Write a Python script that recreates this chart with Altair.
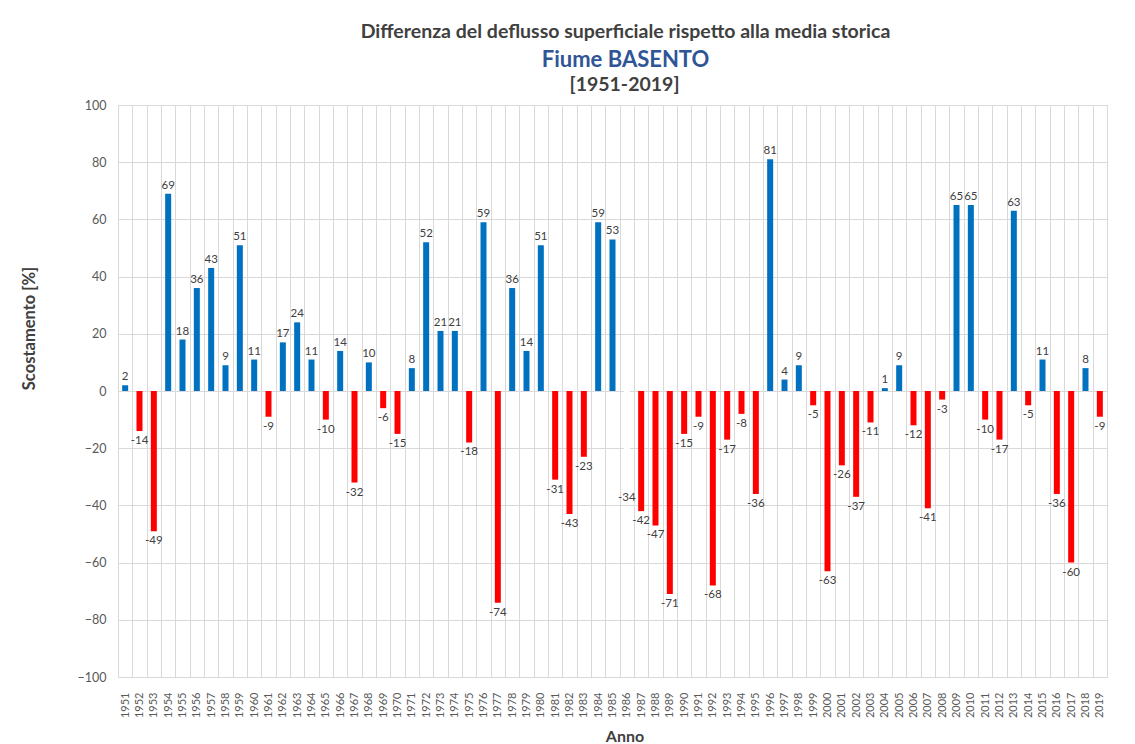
import altair as alt
import pandas as pd

years = list(range(1951, 2020))
values = [2, -14, -49, 69, 18, 36, 43, 9, 51, 11,
          -9, 17, 24, 11, -10, 14, -32, 10, -6, -15,
          8, 52, 21, 21, -18, 59, -74, 36, 14, 51,
          -31, -43, -23, 59, 53, -34, -42, -47, -71, -15,
          -9, -68, -17, -8, -36, 81, 4, 9, -5, -63,
          -26, -37, -11, 1, 9, -12, -41, -3, 65, 65,
          -10, -17, 63, -5, 11, -36, -60, 8, -9]
hidden_years = [1986]

title_line1 = "Differenza del deflusso superficiale rispetto alla media storica"
title_line2 = "Fiume BASENTO"
title_line3 = "[1951-2019]"
y_title = "Scostamento [%]"
x_title = "Anno"

BLUE = "#0070C0"
RED = "#FF0000"
TXT = "#404040"
GRID = "#D9D9D9"
FONT = "Lato"

W, H = 989, 572

df = pd.DataFrame({"year": [str(y) for y in years], "value": values})
df["label"] = df["value"].astype(str)
df["color"] = [
    "#FFFFFF" if y in hidden_years else (BLUE if v >= 0 else RED)
    for y, v in zip(years, values)
]

xscale = alt.Scale(paddingInner=0, paddingOuter=0)
yscale = alt.Scale(domain=[-100, 100])

x_enc = alt.X(
    "year:O",
    scale=xscale,
    sort=None,
    axis=alt.Axis(
        title=x_title,
        titleFont=FONT,
        titleFontSize=16,
        titleFontWeight="bold",
        titleColor=TXT,
        titleX=W / 2 + 12,
        titleY=59,
        titleBaseline="middle",
        labelAngle=-90,
        labelAlign="right",
        labelBaseline="middle",
        labelFont=FONT,
        labelFontSize=11,
        labelColor="#595959",
        labelPadding=15,
        labelOverlap=False,
        ticks=False,
        domain=False,
        grid=True,
        gridColor=GRID,
        gridWidth=1,
        tickBand="extent",
    ),
)
y_enc = alt.Y(
    "value:Q",
    scale=yscale,
    axis=alt.Axis(
        title=y_title,
        titleFont=FONT,
        titleFontSize=16.5,
        titleFontWeight="bold",
        titleColor=TXT,
        titleX=-89,
        titleY=223,
        titleAngle=-90,
        titleAlign="center",
        titleBaseline="middle",
        values=list(range(-100, 101, 20)),
        labelFont=FONT,
        labelFontSize=12.5,
        labelColor="#595959",
        labelPadding=12,
        ticks=False,
        domain=False,
        grid=True,
        gridColor=GRID,
        gridWidth=1,
    ),
)

base = alt.Chart(df)

bars = base.mark_bar(size=6).encode(
    x=x_enc,
    y=y_enc,
    y2=alt.datum(0),
    color=alt.Color("color:N", scale=None),
)

pos_labels = base.transform_filter("datum.value >= 0").mark_text(
    baseline="bottom", dy=-3, font=FONT, fontSize=11.5, color=TXT
).encode(x=alt.X("year:O", sort=None), y="value:Q", text="label:N")

neg_labels = base.transform_filter("datum.value < 0").mark_text(
    baseline="top", dy=4, font=FONT, fontSize=11.5, color=TXT
).encode(x=alt.X("year:O", sort=None), y="value:Q", text="label:N")

line3 = alt.Chart(pd.DataFrame({"t": [title_line3]})).mark_text(
    font=FONT, fontSize=19.5, fontWeight="bold", color=TXT, baseline="middle"
).encode(text="t:N", x=alt.value(W / 2 + 12), y=alt.value(-20))

chart = (
    alt.layer(bars, pos_labels, neg_labels, line3)
    .properties(
        width=W,
        height=H,
        padding={"left": 110, "top": 97, "right": 10, "bottom": 67},
        autosize=alt.AutoSizeParams(type="none"),
        title=alt.TitleParams(
            text=title_line1,
            subtitle=title_line2,
            font=FONT,
            fontSize=19.5,
            fontWeight="bold",
            color=TXT,
            subtitleFont=FONT,
            subtitleFontSize=22,
            subtitleFontWeight="bold",
            subtitleColor="#2F5597",
            subtitlePadding=8,
            anchor="middle",
            frame="group",
            dx=13,
            offset=3,
        ),
    )
    .configure_view(stroke=GRID, strokeWidth=1)
    .configure(background="white")
)

chart.save("out.html", embed_options={"renderer": "svg", "actions": False})
